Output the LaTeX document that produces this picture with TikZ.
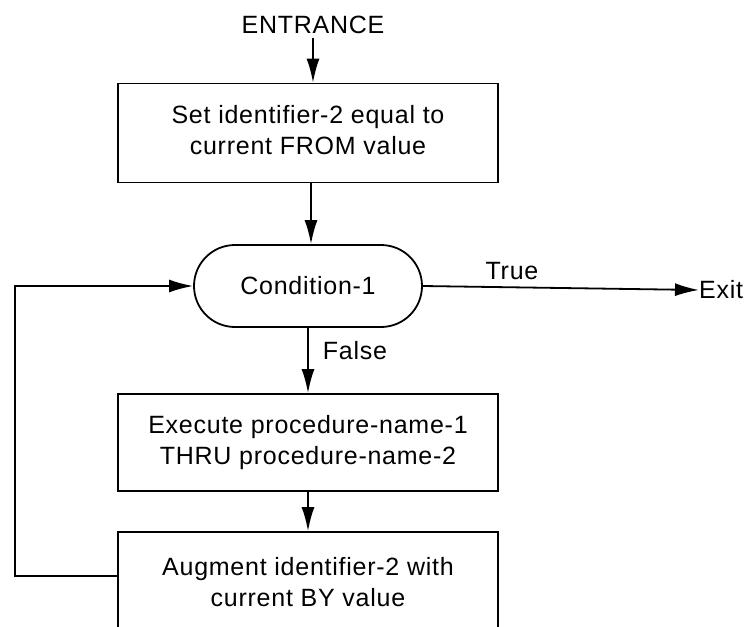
\documentclass[tikz,border=0pt]{standalone}
\usepackage{fontspec}
\setmainfont{Liberation Sans}[LetterSpace=3]
\usetikzlibrary{arrows.meta,shapes.misc}
\begin{document}
\begin{tikzpicture}[x=1pt,y=-1pt,
  every node/.style={font=\fontsize{25}{31}\selectfont},
  procbox/.style={draw,line width=1.8pt,minimum width=380pt,minimum height=99pt,align=center,inner sep=0pt},
  flow/.style={line width=1.8pt,-{Latex[length=24pt,width=13pt]}},
  plain/.style={line width=1.8pt}]
\useasboundingbox (0,0) rectangle (748,627);
\clip (0,0) rectangle (748,627);
\node (ent) at (313,25) {ENTRANCE};
\node[procbox] (b1) at (308,133) {\raisebox{-4pt}{\begin{tabular}{@{}c@{}}Set identifier-2 equal to\\current FROM value\end{tabular}}};
\node[draw,line width=1.8pt,rounded rectangle,minimum width=228pt,minimum height=82pt,inner sep=0pt] (cond) at (308,286) {Condition-1};
\node[procbox,minimum height=97pt] (b2) at (308,442.5) {Execute procedure-name-1\\THRU procedure-name-2};
\node[procbox,minimum height=100pt] (b3) at (308,582) {Augment identifier-2 with\\current BY value};
\node[anchor=west,inner sep=0pt] (exit) at (699,290) {Exit};
\node (tru) at (512,271) {True};
\node (fal) at (355,351) {False};
\coordinate (lt) at (15,286);
\coordinate (lb) at (15,576);
\coordinate (ea) at (313,38);
\draw[flow] (ea) -- (ea |- b1.north);
\draw[flow] (b1.south -| 311,0) -- (cond.north -| 311,0);
\draw[flow] (cond.east) -- (exit.west);
\draw[flow] (cond.south) -- (b2.north);
\draw[flow] (b2.south) -- (b3.north);
\draw[flow] (b3.west |- lb) -- (lb) -- (lt) -- (cond.west);
\end{tikzpicture}
\end{document}
